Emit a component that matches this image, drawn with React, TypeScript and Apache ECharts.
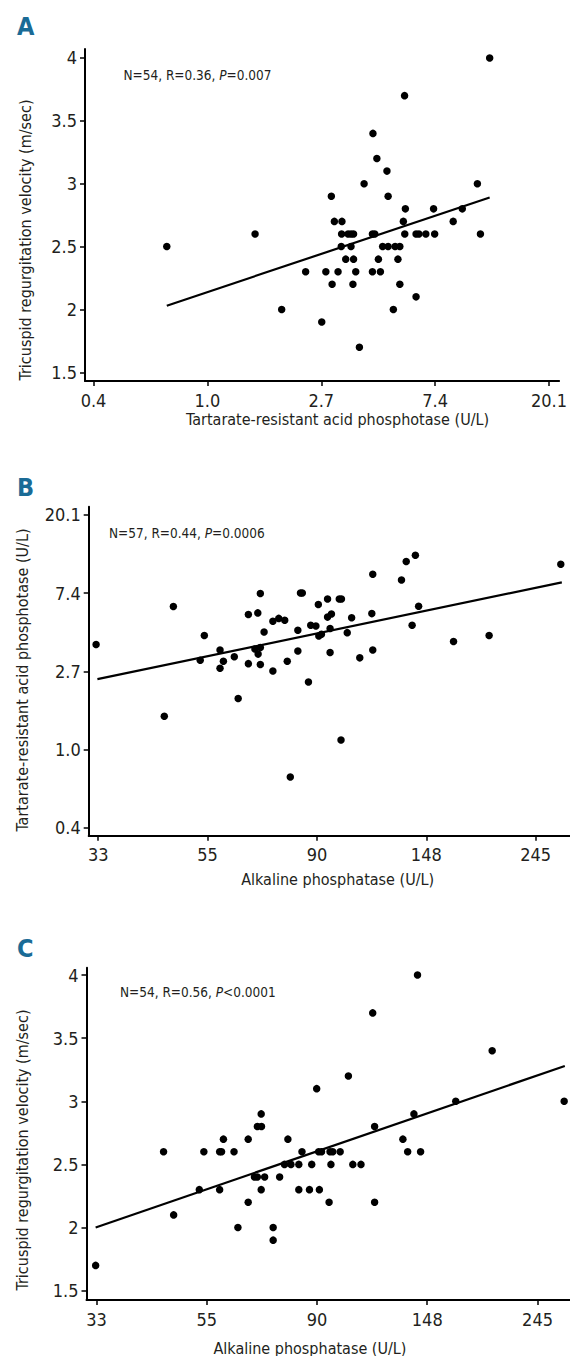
import React, { useEffect, useRef } from 'react';
import * as echarts from 'echarts';

// ---------- tick definitions ----------
const trapTickValues = [0.3679, 1, 2.7183, 7.3891, 20.0855];
const trapTickLabels = ['0.4', '1.0', '2.7', '7.4', '20.1'];
const alpTickValues = [33.12, 54.6, 90.02, 148.41, 244.69];
const alpTickLabels = ['33', '55', '90', '148', '245'];
const trvTickValues = [1.5, 2, 2.5, 3, 3.5, 4];
const trvTickLabels = ['1.5', '2', '2.5', '3', '3.5', '4'];

// ---------- panel A: TRAP (x) vs TRV (y) ----------
const aTrap = [11.93, 5.65, 4.28, 4.43, 4.84, 3.96, 10.71, 2.97, 4.89, 5.69, 7.29, 9.38, 3.05, 3.26, 5.59, 8.66,
  1.52, 3.25, 3.44, 3.53, 3.61, 4.26, 4.35, 5.66, 6.25, 6.41, 6.81, 7.36, 11.0,
  0.70, 3.24, 3.53, 4.66, 4.89, 5.20, 5.42,
  3.37, 3.61, 4.49, 5.33,
  2.37, 2.83, 3.15, 3.68, 4.26, 4.57,
  2.99, 3.59, 5.42,
  6.25,
  1.92, 5.12,
  2.73,
  3.80];
const aTrv = [4.0, 3.7, 3.4, 3.2, 3.1, 3.0, 3.0, 2.9, 2.9, 2.8, 2.8, 2.8, 2.7, 2.7, 2.7, 2.7,
  2.6, 2.6, 2.6, 2.6, 2.6, 2.6, 2.6, 2.6, 2.6, 2.6, 2.6, 2.6, 2.6,
  2.5, 2.5, 2.5, 2.5, 2.5, 2.5, 2.5,
  2.4, 2.4, 2.4, 2.4,
  2.3, 2.3, 2.3, 2.3, 2.3, 2.3,
  2.2, 2.2, 2.2,
  2.1,
  2.0, 2.0,
  1.9,
  1.7];
const aFit = [[0.70, 2.03], [11.93, 2.89]];

// ---------- panel B: ALP (x) vs TRAP (y) ----------
const bAlp = [32.8, 46.7, 53.8, 52.8, 57.8, 57.8, 58.7, 61.7, 62.8, 44.8, 65.8, 65.8, 67.8, 69.5, 68.8, 68.7,
  69.5, 69.5, 70.7, 73.6, 75.6, 77.7, 73.6, 78.6, 82.5, 82.5, 83.5, 86.6, 87.5, 89.6, 90.6, 90.8, 91.9,
  94.5, 94.5, 96.2, 95.6, 95.6, 99.7, 100.5, 103.4, 105.5, 109.5, 115.7, 116.2, 116.2, 132.5, 135.4,
  139.1, 141.2, 143.3, 168.1, 197.8, 274.5, 84.2, 100.7, 79.7];
const bTrap = [3.83, 6.23, 4.30, 3.13, 3.57, 2.83, 3.09, 3.28, 1.92, 1.53, 5.62, 3.00, 3.62, 3.69, 3.39, 5.74,
  7.35, 2.97, 4.50, 5.16, 5.35, 5.23, 2.73, 3.09, 4.60, 3.53, 7.41, 2.37, 4.90, 4.86, 6.39, 4.27, 4.37,
  6.86, 5.44, 5.66, 4.70, 3.46, 6.86, 1.13, 4.46, 5.39, 3.23, 5.69, 9.41, 3.57, 8.75, 11.07,
  4.90, 12.0, 6.25, 3.98, 4.30, 10.69, 7.41, 6.86, 0.704];
const bFit = [[33.0, 2.46], [275.8, 8.49]];

// ---------- panel C: ALP (x) vs TRV (y) ----------
const cAlp = [142.0, 115.9, 199.2, 103.8, 89.9, 168.9, 276.1, 69.9, 139.7, 68.7, 70.0, 116.9,
  58.9, 65.9, 78.9, 132.9,
  44.9, 53.9, 57.9, 58.4, 61.8, 84.1, 90.7, 91.9, 95.5, 96.7, 100.0, 135.8, 144.0,
  77.7, 80.0, 82.9, 87.9, 95.9, 105.9, 109.9,
  67.8, 68.7, 71.0, 76.0,
  52.8, 57.9, 69.9, 82.9, 87.0, 91.0,
  65.9, 95.1, 116.9,
  47.0,
  62.9, 73.8,
  73.8,
  33.0];
const cTrv = [4.0, 3.7, 3.4, 3.2, 3.1, 3.0, 3.0, 2.9, 2.9, 2.8, 2.8, 2.8,
  2.7, 2.7, 2.7, 2.7,
  2.6, 2.6, 2.6, 2.6, 2.6, 2.6, 2.6, 2.6, 2.6, 2.6, 2.6, 2.6, 2.6,
  2.5, 2.5, 2.5, 2.5, 2.5, 2.5, 2.5,
  2.4, 2.4, 2.4, 2.4,
  2.3, 2.3, 2.3, 2.3, 2.3, 2.3,
  2.2, 2.2, 2.2,
  2.1,
  2.0, 2.0,
  1.9,
  1.7];
const cFit = [[33.0, 2.00], [276.9, 3.28]];

const FONT = "'Liberation Sans Narrow', 'DejaVu Sans Condensed', 'Liberation Sans', sans-serif";
const TEXT = '#231f20';
const LETTER = '#1a6b96';

function zip(xs: number[], ys: number[]) {
  return xs.map((x, i) => [x, ys[i]]);
}

function makeAxis(gridIndex: number, type: 'log' | 'value', min: number, max: number, ticks: number[], labels: string[], isX: boolean) {
  const fmt = (v: number) => {
    let best = 0;
    let bd = Infinity;
    ticks.forEach((t, i) => {
      const d = Math.abs(t - v);
      if (d < bd) { bd = d; best = i; }
    });
    return labels[best];
  };
  const ax: any = {
    type,
    gridIndex,
    min,
    max,
    axisLine: { show: true, onZero: false, lineStyle: { color: '#000', width: 2 } },
    axisTick: { show: true, inside: false, length: 5, customValues: ticks, lineStyle: { color: '#000', width: 1.5 } },
    axisLabel: {
      show: true,
      customValues: ticks,
      formatter: fmt,
      color: TEXT,
      fontSize: 18,
      fontFamily: FONT,
      margin: isX ? 10 : 8,
      showMinLabel: true,
      showMaxLabel: true,
    },
    splitLine: { show: false },
    minorTick: { show: false },
  };
  if (type === 'log') ax.logBase = Math.E;
  return ax;
}

function annotation(x: number, y: number, main: string, p: string, rest: string) {
  return {
    type: 'text',
    x,
    y,
    style: {
      text: `{a|${main}}{b|${p}}{a|${rest}}`,
      rich: {
        a: { fontSize: 13.5, fontFamily: FONT, fill: TEXT },
        b: { fontSize: 13.5, fontFamily: FONT, fill: TEXT, fontStyle: 'italic' },
      },
      verticalAlign: 'middle',
      align: 'left',
    },
  };
}

function title(x: number, y: number, text: string, rotate: boolean) {
  return {
    type: 'text',
    x,
    y,
    rotation: rotate ? Math.PI / 2 : 0,
    style: {
      text,
      fontSize: 16,
      fontFamily: FONT,
      fill: TEXT,
      align: 'center',
      verticalAlign: 'middle',
    },
  };
}

function letter(x: number, y: number, text: string) {
  return {
    type: 'text',
    x,
    y,
    style: {
      text,
      fontSize: 25,
      fontWeight: 'bold',
      fontFamily: FONT,
      fill: LETTER,
      align: 'left',
      verticalAlign: 'middle',
    },
  };
}

export default function App() {
  const ref = useRef<HTMLDivElement>(null);
  useEffect(() => {
    document.body.style.margin = '0';
    if (!ref.current) return;
    const chart = echarts.init(ref.current, undefined, { renderer: 'svg' });
    const scatterStyle = { color: '#000', opacity: 1 };
    const option: any = {
      animation: false,
      backgroundColor: '#fff',
      grid: [
        { left: 85, top: 49, width: 485, height: 332 },
        { left: 88.7, top: 506.7, width: 481.3, height: 329 },
        { left: 86.5, top: 967.7, width: 483.5, height: 332.3 },
      ],
      xAxis: [
        makeAxis(0, 'log', 0.3413, 21.96, trapTickValues, trapTickLabels, true),
        makeAxis(1, 'log', 31.71, 286.3, alpTickValues, alpTickLabels, true),
        makeAxis(2, 'log', 31.66, 283.5, alpTickValues, alpTickLabels, true),
      ],
      yAxis: [
        makeAxis(0, 'value', 1.431, 4.071, trvTickValues, trvTickLabels, false),
        makeAxis(1, 'log', 0.3322, 22.33, trapTickValues, trapTickLabels, false),
        makeAxis(2, 'value', 1.426, 4.058, trvTickValues, trvTickLabels, false),
      ],
      series: [
        { type: 'scatter', xAxisIndex: 0, yAxisIndex: 0, data: zip(aTrap, aTrv), symbolSize: 7.5, itemStyle: scatterStyle },
        { type: 'line', xAxisIndex: 0, yAxisIndex: 0, data: aFit, showSymbol: false, lineStyle: { color: '#000', width: 2.2 } },
        { type: 'scatter', xAxisIndex: 1, yAxisIndex: 1, data: zip(bAlp, bTrap), symbolSize: 7.5, itemStyle: scatterStyle },
        { type: 'line', xAxisIndex: 1, yAxisIndex: 1, data: bFit, showSymbol: false, lineStyle: { color: '#000', width: 2.2 } },
        { type: 'scatter', xAxisIndex: 2, yAxisIndex: 2, data: zip(cAlp, cTrv), symbolSize: 7.5, itemStyle: scatterStyle },
        { type: 'line', xAxisIndex: 2, yAxisIndex: 2, data: cFit, showSymbol: false, lineStyle: { color: '#000', width: 2.2 } },
      ],
      graphic: [
        letter(17, 26, 'A'),
        letter(17, 487, 'B'),
        letter(17, 948, 'C'),
        annotation(123.5, 75, 'N=54, R=0.36, ', 'P', '=0.007'),
        annotation(109, 533, 'N=57, R=0.44, ', 'P', '=0.0006'),
        annotation(120, 992, 'N=54, R=0.56, ', 'P', '<0.0001'),
        title(25, 240, 'Tricuspid regurgitation velocity (m/sec)', true),
        title(337.6, 419, 'Tartarate-resistant acid phosphotase (U/L)', false),
        title(22, 680, 'Tartarate-resistant acid phosphotase (U/L)', true),
        title(337.7, 879, 'Alkaline phosphatase (U/L)', false),
        title(22.5, 1150, 'Tricuspid regurgitation velocity (m/sec)', true),
        title(310, 1348, 'Alkaline phosphatase (U/L)', false),
      ],
    };
    chart.setOption(option);
    return () => chart.dispose();
  }, []);
  return <div ref={ref} style={{ width: 570, height: 1356 }} />;
}
